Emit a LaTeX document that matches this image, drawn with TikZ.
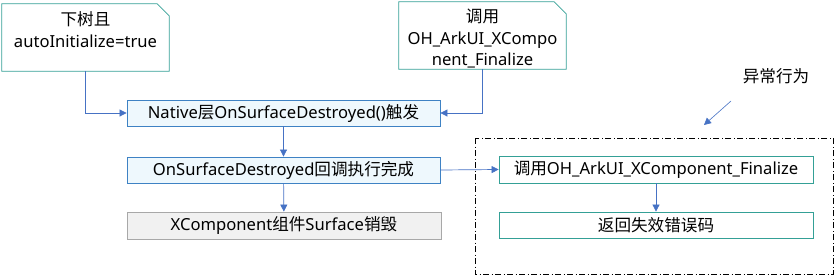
\documentclass[tikz,border=0pt]{standalone}
\usepackage{fontspec}
\setmainfont{Noto Sans}
\newfontfamily\cjk{Noto Sans CJK SC}
\definecolor{hwteal}{RGB}{52,160,150}
\definecolor{hwblue}{RGB}{62,130,196}
\definecolor{hwarrow}{RGB}{70,114,196}
\definecolor{hwfill}{RGB}{238,248,253}
\definecolor{hwgray}{RGB}{168,168,168}
\definecolor{hwgrayfill}{RGB}{241,241,241}
\usetikzlibrary{arrows.meta,positioning,calc}

\tikzset{
  notebox/.style={minimum width=167pt, minimum height=67pt, inner sep=0pt},
  notetext/.style={align=center, yshift=-3pt},
  noteline/.style={draw=hwteal, line width=0.8pt},
  flowbox/.style={draw=hwblue, fill=hwfill, line width=0.8pt, minimum width=313pt, minimum height=26pt, inner sep=0pt},
  errbox/.style={draw=hwteal, fill=white, line width=0.8pt, minimum width=314pt, minimum height=27pt, inner sep=0pt},
  endbox/.style={draw=hwgray, fill=hwgrayfill, line width=0.8pt, minimum width=314pt, minimum height=27pt, inner sep=0pt},
  flowarrow/.style={draw=hwarrow, line width=0.7pt, -{Triangle[length=7pt,width=7pt]}}
}

\begin{document}
\begin{tikzpicture}[x=1pt, y=-1pt, font=\fontsize{16.6}{21.5}\selectfont]
  \useasboundingbox (0,0) rectangle (836,279);

  % upper notes
  \node[notebox, label={[notetext]center:{\cjk 下树且}\\autoInitialize=true\\\mbox{}}] (autoinit) at (85.5,37.5) {};
  \node[notebox, label={[notetext]center:{\cjk 调用}\\OH\_ArkUI\_XCompo\\nent\_Finalize}] (callfin) at (482.5,35.5) {};
  \foreach \n in {autoinit,callfin}
    \draw[noteline] (\n.south west) -- (\n.north west) -- ([xshift=-12pt]\n.north east)
      -- ([yshift=-12pt]\n.north east) -- (\n.south east) -- cycle;

  % main flow
  \node[flowbox] (native) at (283.5,113) {Native{\cjk 层}OnSurfaceDestroyed(){\cjk 触发}};
  \node[flowbox] (cbdone) at (283.5,170) {OnSurfaceDestroyed{\cjk 回调执行完成}};
  \node[endbox] (surfdel) at (284,225.5) {XComponent{\cjk 组件}Surface{\cjk 销毁}};

  % abnormal branch
  \draw[line width=0.8pt, dash pattern=on 6pt off 2.5pt on 1pt off 2.5pt] (475,138) rectangle (833,274);
  \node[errbox] (finalize) at (656,169.5) {{\cjk 调用}OH\_ArkUI\_XComponent\_Finalize};
  \node[errbox, minimum height=26pt] (errcode) at (656,225) {\cjk 返回失效错误码};
  \node[font=\cjk\fontsize{16.6}{21.5}\selectfont] (abnormal) at (776,76) {异常行为};
  \coordinate (hintstart) at (731,101);
  \coordinate (hintend) at (704,125);

  \draw[flowarrow, line width=0.6pt] (hintstart) -- (hintend);
  \draw[flowarrow] (autoinit.south) |- (native.west);
  \draw[flowarrow] (callfin.south) |- (native.east);
  \draw[flowarrow] (native) -- (cbdone);
  \draw[flowarrow] (cbdone) -- (surfdel);
  \draw[flowarrow] (cbdone.east) -- (finalize.west);
  \draw[flowarrow] (finalize) -- (errcode);
\end{tikzpicture}
\end{document}
